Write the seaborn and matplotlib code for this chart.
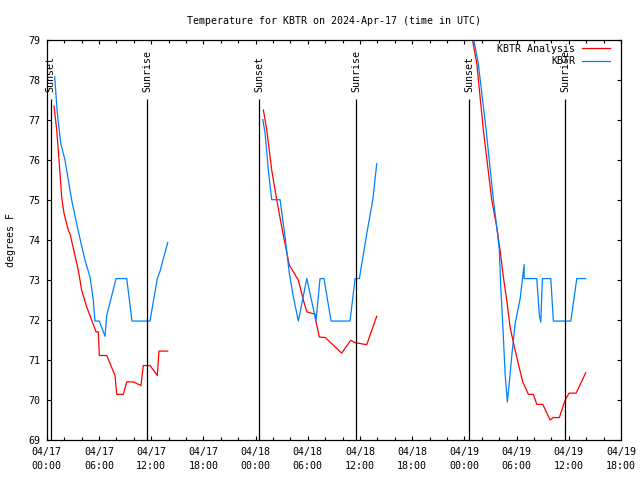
import numpy as np
import pandas as pd
import matplotlib
matplotlib.use("Agg")
import matplotlib.pyplot as plt
import seaborn as sns

# ---- data (hours since 04/17 00:00 UTC, degrees F) ----
obs_h1 = [0.92, 1.22, 1.61, 2.10, 2.87, 3.6, 4.4, 4.98, 5.36, 5.55, 6.05, 6.70, 6.9, 7.97, 9.2, 9.8, 11.87, 12.71, 13.0, 13.91]
obs_t1 = [78.07, 77.16, 76.41, 75.99, 74.99, 74.24, 73.49, 73.07, 72.49, 71.97, 71.97, 71.59, 72.11, 73.03, 73.03, 71.97, 71.97, 73.03, 73.2, 73.93]
obs_h2 = [24.83, 25.1, 25.47, 25.86, 26.82, 27.39, 27.89, 28.35, 28.92, 29.89, 30.95, 31.41, 31.87, 32.68, 34.86, 35.44, 35.93, 36.78, 37.47, 37.93]
obs_t2 = [77.0, 76.66, 75.74, 75.0, 75.0, 74.07, 73.15, 72.57, 71.97, 73.03, 71.97, 73.03, 73.03, 71.97, 71.97, 73.03, 73.03, 74.15, 74.99, 75.9]
obs_h3 = [48.9, 49.6, 50.5, 51.34, 51.72, 52.02, 52.18, 52.41, 52.68, 52.94, 53.17, 53.45, 53.83, 54.41, 54.87, 54.87, 56.32, 56.62, 56.78, 56.97, 57.93, 58.23, 60.23, 60.92, 61.95]
obs_t3 = [79.2, 78.4, 76.74, 74.99, 74.32, 73.74, 72.82, 71.9, 70.66, 69.95, 70.45, 71.11, 71.9, 72.53, 73.38, 73.03, 73.03, 72.11, 71.94, 73.03, 73.03, 71.97, 71.97, 73.03, 73.03]

ana_h1 = [0.84, 1.15, 1.33, 1.53, 1.72, 1.99, 2.48, 2.68, 3.63, 4.02, 4.6, 5.17, 5.67, 5.93, 6.05, 6.9, 7.85, 8.05, 8.8, 9.2, 9.95, 10.84, 11.1, 11.87, 12.71, 12.9, 13.91]
ana_t1 = [77.34, 76.74, 76.24, 75.66, 75.07, 74.66, 74.24, 74.15, 73.24, 72.74, 72.32, 71.99, 71.7, 71.7, 71.11, 71.11, 70.61, 70.14, 70.14, 70.45, 70.45, 70.36, 70.86, 70.86, 70.61, 71.22, 71.22]
ana_h2 = [24.9, 25.29, 25.86, 26.44, 27.08, 27.39, 27.89, 28.35, 28.92, 29.5, 29.89, 30.84, 30.95, 31.34, 32.0, 33.9, 34.94, 35.44, 36.78, 37.36, 37.93]
ana_t2 = [77.24, 76.74, 75.74, 74.99, 74.24, 73.9, 73.36, 73.2, 72.99, 72.49, 72.2, 72.14, 71.95, 71.57, 71.56, 71.17, 71.49, 71.43, 71.38, 71.74, 72.09]
ana_h3 = [48.75, 49.43, 50.18, 51.15, 51.72, 52.1, 52.48, 52.87, 53.25, 53.75, 54.2, 54.71, 55.36, 55.93, 56.32, 57.01, 57.85, 58.23, 58.92, 59.57, 60.03, 60.84, 61.95]
ana_t3 = [79.2, 78.4, 76.74, 74.99, 74.32, 73.74, 73.07, 72.49, 71.82, 71.32, 70.9, 70.45, 70.14, 70.14, 69.89, 69.89, 69.5, 69.56, 69.56, 69.99, 70.17, 70.17, 70.68]

sun_hours = [0.46, 11.56, 24.44, 35.59, 48.57, 59.61]
sun_labels = ["Sunset", "Sunrise", "Sunset", "Sunrise", "Sunset", "Sunrise"]

xtick_labels = ["04/17\n00:00", "04/17\n06:00", "04/17\n12:00", "04/17\n18:00",
                "04/18\n00:00", "04/18\n06:00", "04/18\n12:00", "04/18\n18:00",
                "04/19\n00:00", "04/19\n06:00", "04/19\n12:00", "04/19\n18:00"]
ytick_vals = list(range(69, 80))

series_names = ["KBTR Analysis", "KBTR"]
series_colors = {"KBTR Analysis": "#ff0000", "KBTR": "#0080ff"}

# ---- build long table ----
rows = []
for name, segs in [("KBTR Analysis", [(ana_h1, ana_t1), (ana_h2, ana_t2), (ana_h3, ana_t3)]),
                   ("KBTR", [(obs_h1, obs_t1), (obs_h2, obs_t2), (obs_h3, obs_t3)])]:
    for si, (hh, tt) in enumerate(segs):
        for h, t in zip(hh, tt):
            rows.append({"series": name, "seg": f"{name}-{si}", "hours": h, "temp": t})
df = pd.DataFrame(rows)

plt.rcParams["font.family"] = ["DejaVu Sans Mono"]
fs = 7.2

fig = plt.figure(figsize=(6.4, 4.8), dpi=100)
ax = fig.add_axes([46.7 / 640, 40 / 480, (621 - 46.7) / 640, (440.5 - 40) / 480])

sns.lineplot(data=df, x="hours", y="temp", hue="series", hue_order=series_names,
             palette=series_colors, units="seg", estimator=None, sort=False,
             linewidth=0.9, ax=ax)

# sunrise / sunset lines
ax.vlines(sun_hours, 69, 77.52, colors="black", linewidth=0.9)
for h, lab in zip(sun_hours, sun_labels):
    ax.text(h, 77.7, lab, rotation=90, ha="center", va="bottom", fontsize=fs)

ax.set_xlim(0, 66)
ax.set_ylim(69, 79)
ax.set_xticks(np.arange(0, 67, 6))
ax.set_xticklabels(xtick_labels, fontsize=fs)
ax.set_xticks(np.arange(0, 67, 2), minor=True)
ax.set_yticks(ytick_vals)
ax.set_yticklabels([str(v) for v in ytick_vals], fontsize=fs)
for lbl in ax.get_xticklabels():
    lbl.set_linespacing(1.5)

ax.tick_params(which="both", direction="in", top=True, right=True, color="black")
ax.tick_params(which="major", length=3.2, width=0.8)
ax.tick_params(which="minor", length=2.0, width=0.8)
ax.tick_params(axis="y", pad=4.5)
ax.tick_params(axis="x", pad=5)
for s in ax.spines.values():
    s.set_color("black")
    s.set_linewidth(0.9)

ax.set_xlabel("")
ax.set_ylabel("degrees F", fontsize=fs, labelpad=9)
ax.set_title("Temperature for KBTR on 2024-Apr-17 (time in UTC)", fontsize=fs, pad=11)

handles, labels = ax.get_legend_handles_labels()
ax.legend(handles, labels, loc="upper right", bbox_to_anchor=(0.988, 1.0),
          borderaxespad=0, frameon=False, markerfirst=False, fontsize=fs,
          handlelength=2.8, handletextpad=0.7, labelspacing=0.25)

fig.savefig("out.png", dpi=100)
